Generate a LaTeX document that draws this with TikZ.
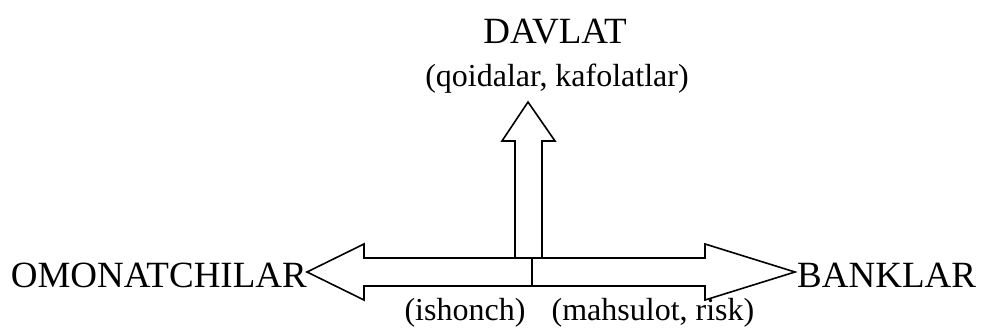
\documentclass[tikz,border=0pt]{standalone}
\usepackage{fontspec}
\setmainfont{Liberation Serif}
\begin{document}
\begin{tikzpicture}[x=1pt,y=-1pt,
  big/.style={inner sep=0pt,font=\fontsize{37}{40}\selectfont},
  small/.style={inner sep=0pt,font=\fontsize{32}{36}\selectfont},
  outline/.style={draw=black,line width=1.6pt,line join=miter,fill=white}]
\useasboundingbox (0,0) rectangle (987,331);
% horizontal double arrow
\draw[outline] (307,272) -- (364,244) -- (364,258) -- (705,258) -- (705,244)
  -- (795,272) -- (705,300) -- (705,286) -- (364,286) -- (364,300) -- cycle;
% upward arrow
\draw[outline] (515,258) -- (515,141) -- (502,141) -- (528,102) -- (555,141)
  -- (542,141) -- (542,258) -- cycle;
\draw[line width=1.6pt] (532,258) -- (532,286);
% labels
\node[big,anchor=base] (davlat) at (555,44) {DAVLAT};
\node[small,anchor=base] (qoida) at (557,87) {(qoidalar, kafolatlar)};
\node[big,anchor=base east] (omon) at (307,287) {OMONATCHILAR};
\node[big,anchor=base west] (bank) at (797,287) {BANKLAR};
\node[small,anchor=base] (ishonch) at (465,320) {(ishonch)};
\node[small,anchor=base] (mahs) at (653,320) {(mahsulot, risk)};
\end{tikzpicture}
\end{document}
